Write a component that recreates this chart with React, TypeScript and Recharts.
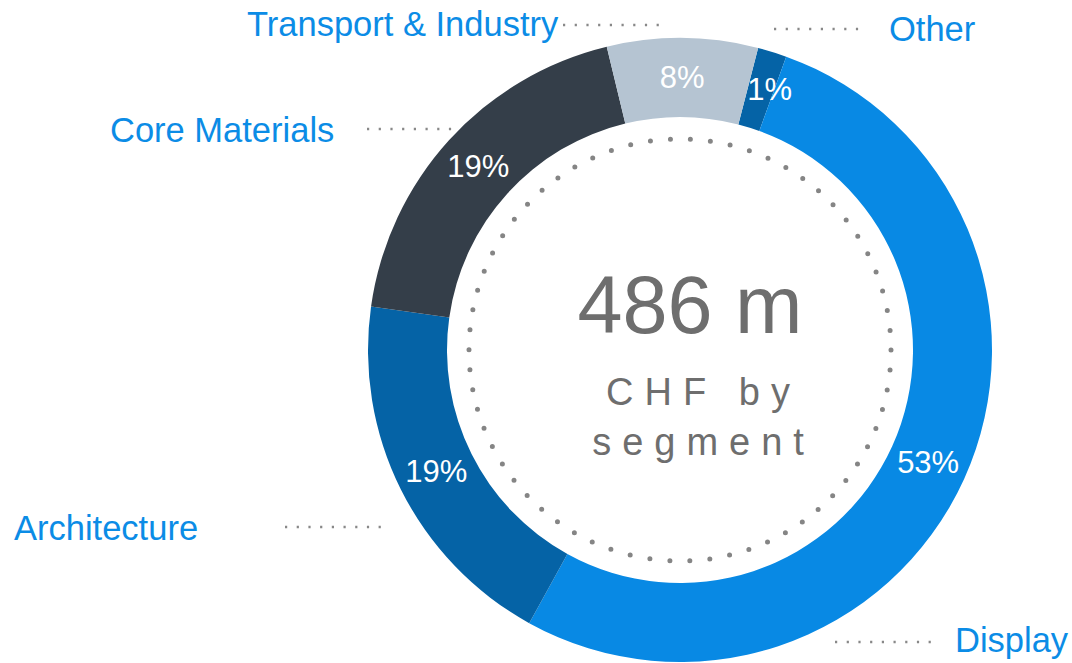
import { Cell, Pie, PieChart } from "recharts";

// share of sales by segment, clockwise from the top
const segments = ["Other", "Display", "Architecture", "Core Materials", "Transport & Industry"];
const shares = [1.5, 52.5, 19.2, 19.0, 7.8];
const shareLabels = ["1%", "53%", "19%", "19%", "8%"];
const totalLabel = "486 m";
const subLabel = ["CHF by", "segment"];

const colors = ["#0563a6", "#0889e4", "#0563a6", "#343e49", "#b5c4d2"];

// where each segment name and its dotted leader sit
const nameLayout = [
  { x: 889, y: 41, x1: 774, x2: 860, ly: 29, nudge: 9 },
  { x: 955, y: 652, x1: 835, x2: 932, ly: 642, nudge: 0 },
  { x: 14, y: 540, x1: 285, x2: 382, ly: 527, nudge: 0 },
  { x: 110, y: 142, x1: 367, x2: 452, ly: 129, nudge: 0 },
  { x: 247, y: 36, x1: 563, x2: 660, ly: 25, nudge: 0 },
];

const data = segments.map((name, i) => ({ name, value: shares[i] }));

const FONT = "'Liberation Sans', Arial, Helvetica, sans-serif";
const CX = 680;
const CY = 350;
const RAD = Math.PI / 180;

const renderLabel = (props: any) => {
  const { cx, cy, midAngle, innerRadius, outerRadius, index } = props;
  const r = (innerRadius + outerRadius) / 2;
  const x = cx + r * Math.cos(-midAngle * RAD);
  const y = cy + r * Math.sin(-midAngle * RAD);
  const lay = nameLayout[index];
  return (
    <g key={index}>
      <text
        x={x + lay.nudge}
        y={y}
        fill="#fff"
        fontSize={31}
        fontFamily={FONT}
        textAnchor="middle"
        dominantBaseline="central"
      >
        {shareLabels[index]}
      </text>
      <line
        x1={lay.x1}
        x2={lay.x2}
        y1={lay.ly}
        y2={lay.ly}
        stroke="#888"
        strokeWidth={2.4}
        strokeDasharray="2.2 9.5"
      />
      <text x={lay.x} y={lay.y} fill="#0b8ce6" fontSize={34.5} fontFamily={FONT}>
        {segments[index]}
      </text>
    </g>
  );
};

const ringR = 211;
const dotGap = (2 * Math.PI * ringR) / 66;

export default function App() {
  return (
    <div style={{ position: "absolute", left: 0, top: 0, background: "#fff" }}>
      <PieChart width={1072} height={663} margin={{ top: 0, right: 0, bottom: 0, left: 0 }}>
        <circle
          cx={CX}
          cy={CY}
          r={ringR}
          fill="none"
          stroke="#858585"
          strokeWidth={5}
          strokeLinecap="round"
          strokeDasharray={`0 ${dotGap}`}
        />
        <text
          x={690}
          y={333}
          fill="#6e6e6e"
          fontSize={81}
          fontFamily={FONT}
          textAnchor="middle"
        >
          {totalLabel}
        </text>
        <text
          x={703.5}
          y={405}
          fill="#6e6e6e"
          fontSize={38}
          fontFamily={FONT}
          textAnchor="middle"
          letterSpacing={11}
        >
          {subLabel[0]}
        </text>
        <text
          x={703.5}
          y={455}
          fill="#6e6e6e"
          fontSize={38}
          fontFamily={FONT}
          textAnchor="middle"
          letterSpacing={11}
        >
          {subLabel[1]}
        </text>
        <Pie
          data={data}
          dataKey="value"
          nameKey="name"
          cx={CX}
          cy={CY}
          innerRadius={233}
          outerRadius={312}
          startAngle={75.5}
          endAngle={-284.5}
          stroke="none"
          label={renderLabel}
          labelLine={false}
          isAnimationActive={false}
        >
          {data.map((d, i) => (
            <Cell key={d.name} fill={colors[i]} />
          ))}
        </Pie>
      </PieChart>
    </div>
  );
}
